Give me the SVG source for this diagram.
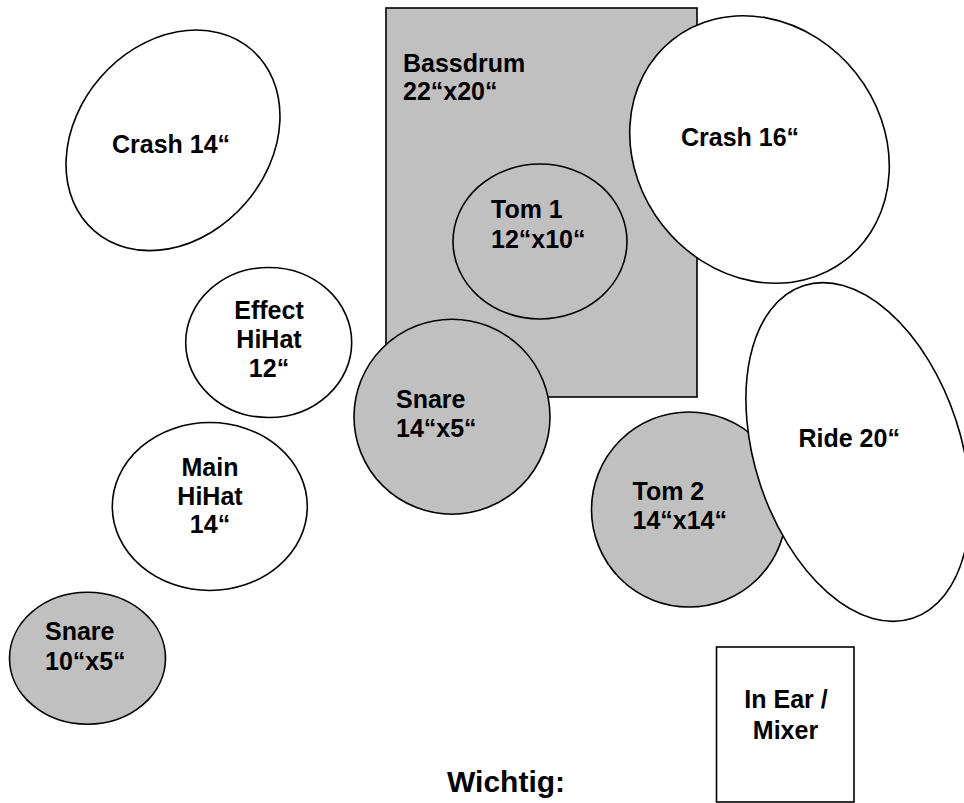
<svg xmlns="http://www.w3.org/2000/svg" width="964" height="803" viewBox="0 0 964 803">
<style>
.shape{stroke:#000;stroke-width:1.6}
.gray{fill:#C0C0C0}
.white{fill:#FFFFFF}
text{font-family:"Liberation Sans",Arial,sans-serif;font-weight:bold;font-size:25px;fill:#000}
.mid{text-anchor:middle}
</style>
<rect width="964" height="803" fill="#FFFFFF"/>
<g id="bassdrum">
<rect class="shape gray" x="386" y="8" width="311" height="389"/>
<text x="403" y="72">Bassdrum</text>
<text x="403" y="100">22“x20“</text>
</g>
<g id="tom1">
<ellipse class="shape gray" cx="540" cy="241.5" rx="87" ry="77.5"/>
<text x="491" y="218">Tom 1</text>
<text x="491" y="247.5">12“x10“</text>
</g>
<g id="crash16">
<ellipse class="shape white" cx="0" cy="0" rx="123" ry="140" transform="translate(759.5 149.5) rotate(-38.3)"/>
<text x="681" y="145.5">Crash 16“</text>
</g>
<g id="crash14">
<ellipse class="shape white" cx="0" cy="0" rx="120" ry="96" transform="translate(173 140.3) rotate(-49)"/>
<text x="112" y="152.5">Crash 14“</text>
</g>
<g id="snare14">
<ellipse class="shape gray" cx="452" cy="416.7" rx="98" ry="97.5"/>
<text x="396" y="407.5">Snare</text>
<text x="396" y="437">14“x5“</text>
</g>
<g id="tom2">
<circle class="shape gray" cx="689" cy="509.5" r="97.5"/>
<text x="632.5" y="499.5">Tom 2</text>
<text x="632.5" y="529">14“x14“</text>
</g>
<g id="ride20">
<ellipse class="shape white" cx="0" cy="0" rx="103" ry="175" transform="translate(858 452) rotate(-18.2)"/>
<text x="798.5" y="446.5">Ride 20“</text>
</g>
<g id="effecthihat">
<ellipse class="shape white" cx="268.7" cy="342.5" rx="83" ry="75"/>
<text class="mid" x="269" y="319">Effect</text>
<text class="mid" x="269" y="347.7">HiHat</text>
<text class="mid" x="269" y="376.5">12“</text>
</g>
<g id="mainhihat">
<ellipse class="shape white" cx="209.8" cy="506.5" rx="97.5" ry="84"/>
<text class="mid" x="210" y="476">Main</text>
<text class="mid" x="210" y="504.5">HiHat</text>
<text class="mid" x="210" y="533.3">14“</text>
</g>
<g id="snare10">
<ellipse class="shape gray" cx="87.5" cy="658.3" rx="78" ry="66"/>
<text x="45" y="640">Snare</text>
<text x="45" y="670">10“x5“</text>
</g>
<g id="inear">
<rect class="shape white" x="716.5" y="647" width="137.5" height="155"/>
<text class="mid" x="786" y="708.3">In Ear /</text>
<text class="mid" x="785.5" y="739">Mixer</text>
</g>
<g id="wichtig">
<text x="447" y="792.3" style="font-size:30px">Wichtig:</text>
</g>
<g id="connectors"></g>
</svg>
